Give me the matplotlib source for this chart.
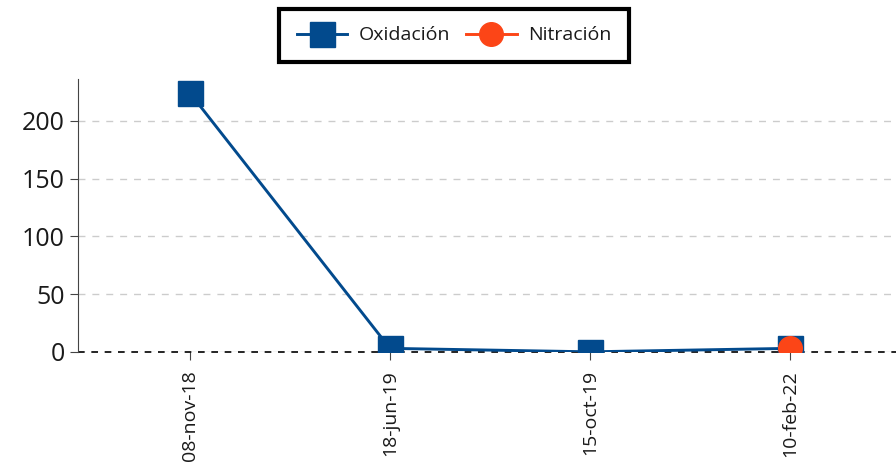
import numpy as np
import matplotlib.pyplot as plt

plt.rcParams['font.family'] = ['Open Sans', 'DejaVu Sans']

fechas = ["08-nov-18", "18-jun-19", "15-oct-19", "10-feb-22"]
oxidacion = [224, 3, 0, 3]
nitracion = [np.nan, np.nan, np.nan, 3]

azul = "#024a8d"
naranja = "#fc4517"

fig = plt.figure(figsize=(8.96, 4.66), dpi=100)
ax = fig.add_axes([0.087, 0.245, 0.913, 0.585])

x = np.arange(len(fechas))
ax.plot(x, oxidacion, color=azul, lw=2.1, marker="s", ms=18,
        label="Oxidación", zorder=3)
ax.plot(x, nitracion, color=naranja, lw=2.1, marker="o", ms=17,
        label="Nitración", zorder=4)

ax.set_xlim(-0.56, 3.53)
ax.set_ylim(0, 236)
ax.set_yticks([0, 50, 100, 150, 200])
ax.set_xticks(x)
ax.set_xticklabels(fechas, rotation=90, fontsize=14, color="#1a1a1a")
ax.tick_params(axis="y", labelsize=18, labelcolor="#1a1a1a", length=6,
               color="#444444")
ax.tick_params(axis="x", length=6, pad=7, color="#444444")

ax.grid(axis="y", ls=(0, (5, 5)), color="#cccccc", lw=1)
ax.set_axisbelow(True)
for s in ["top", "right", "bottom"]:
    ax.spines[s].set_visible(False)
ax.spines["left"].set_color("#444444")
ax.axhline(0, color="black", ls=(0, (4, 4)), lw=1.2, zorder=2, clip_on=False)

leg = fig.legend(loc="upper center", bbox_to_anchor=(0.507, 0.981), ncol=2,
                 fontsize=14, frameon=True, fancybox=False, framealpha=1,
                 handlelength=2.6, columnspacing=0.8, handletextpad=0.6,
                 borderpad=0.9, borderaxespad=0)
leg.get_frame().set_edgecolor("black")
leg.get_frame().set_linewidth(3)
for t in leg.get_texts():
    t.set_color("#1a1a1a")

fig.savefig("out.png", dpi=100)
